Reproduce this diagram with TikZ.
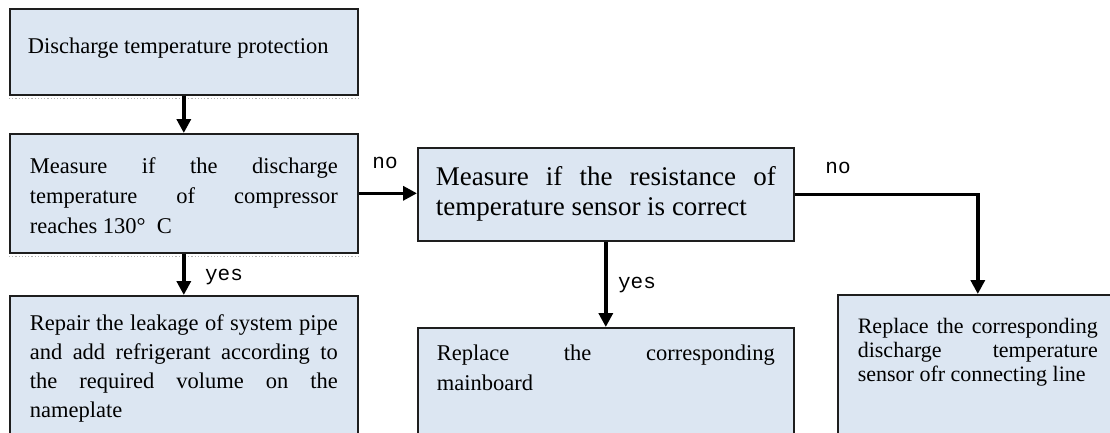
\documentclass[tikz,border=0pt]{standalone}
\usepackage{fontspec}
\setmainfont{Liberation Serif}
\setmonofont{Liberation Mono}
\usepackage{tikz}
\usetikzlibrary{
  arrows.meta,
  positioning,
  calc
}
\definecolor{boxblue}{RGB}{220,230,242}
\definecolor{edgegray}{RGB}{30,30,30}
\newcommand{\flowtext}[4]{\begin{minipage}[t][#2][t]{#1}\rule{0pt}{#3}#4\end{minipage}}

\begin{document}
\begin{tikzpicture}[x=1pt, y=-1pt,
  stepbox/.style={draw=edgegray, line width=1.6pt, fill=boxblue, anchor=north west, inner ysep=0pt},
  flowarrow/.style={line width=3.4pt, -{Triangle[length=14pt, width=14pt]}},
  answer/.style={font=\ttfamily\fontsize{21}{24}\selectfont, inner sep=0pt},
  shadowline/.style={draw=gray!60, dotted, line width=1.2pt}]
  \clip (0,0) rectangle (1110,432);
  \node[stepbox, inner xsep=18pt, font=\fontsize{22.5}{30}\selectfont] (protect) at (9,8) {\flowtext{312pt}{86pt}{45pt}{Discharge temperature protection}};
  \node[stepbox, inner xsep=20pt, font=\fontsize{22.5}{30}\selectfont] (measure) at (9,133) {\flowtext{308pt}{119pt}{40pt}{Measure if the discharge\linebreak temperature of compressor\linebreak reaches 130°~~C}};
  \node[stepbox, inner xsep=20pt, font=\fontsize{22.5}{29}\selectfont] (repair) at (9,295) {\flowtext{308pt}{150pt}{35pt}{Repair the leakage of system pipe\linebreak and add refrigerant according to\linebreak the required volume on the\linebreak nameplate}};
  \node[stepbox, inner xsep=18pt, font=\fontsize{27}{30}\selectfont] (resist) at (417,147) {\flowtext{340pt}{93pt}{38pt}{Measure if the resistance of\linebreak temperature sensor is correct}};
  \node[stepbox, inner xsep=19pt, font=\fontsize{22.5}{30}\selectfont] (mainboard) at (417,327) {\flowtext{338pt}{120pt}{33pt}{Replace the corresponding\linebreak mainboard}};
  \node[stepbox, inner xsep=20pt, font=\fontsize{22}{24}\selectfont] (sensor) at (837,294) {\flowtext{240pt}{150pt}{39pt}{Replace the corresponding\linebreak discharge temperature\linebreak sensor ofr connecting line}};
  % shadow under the first two boxes
  \draw[shadowline] ([yshift=-2.5pt]protect.south west) -- ([yshift=-2.5pt]protect.south east);
  \draw[shadowline] ([yshift=-2.5pt]measure.south west) -- ([yshift=-2.5pt]measure.south east);
  % connectors
  \draw[flowarrow] (protect.south) -- (measure.north);
  \draw[flowarrow] (measure.east) -- (measure.east -| resist.west);
  \draw[flowarrow] (measure.south) -- (repair.north);
  \draw[flowarrow] (resist.south) -- (mainboard.north);
  \draw[flowarrow] (resist.east) -| (sensor.north);
  \node[answer] (noleft) at (385,163) {no};
  \node[answer] (yesleft) at (224,277) {yes};
  \node[answer] (yesmid) at (637,285) {yes};
  \node[answer] (noright) at (838,168) {no};
\end{tikzpicture}
\end{document}
